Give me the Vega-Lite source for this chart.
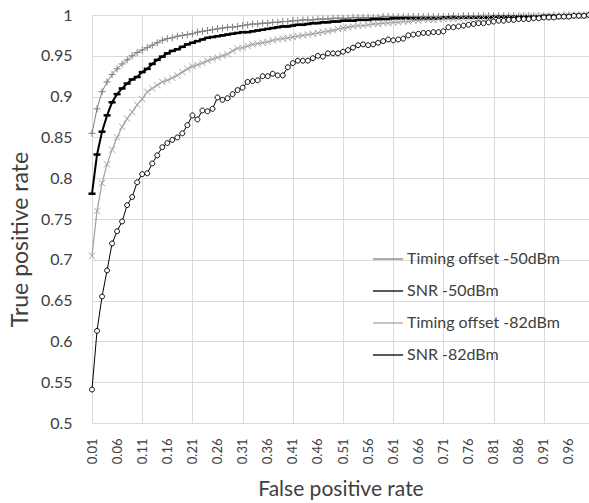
{
"$schema":"https://vega.github.io/schema/vega-lite/v6.json",
"width":497,"height":408,
"autosize":{"type":"none"},
"padding":{"left":92,"top":15,"right":0,"bottom":80},
"background":"white",
"config":{"view":{"stroke":null},"font":"Lato"},
"data":{"values":[
{"series":"Timing offset -50dBm","fpr":0.01,"tpr":0.855},{"series":"Timing offset -50dBm","fpr":0.02,"tpr":0.885},{"series":"Timing offset -50dBm","fpr":0.03,"tpr":0.906},{"series":"Timing offset -50dBm","fpr":0.04,"tpr":0.918},{"series":"Timing offset -50dBm","fpr":0.05,"tpr":0.927},{"series":"Timing offset -50dBm","fpr":0.06,"tpr":0.934},{"series":"Timing offset -50dBm","fpr":0.07,"tpr":0.94},{"series":"Timing offset -50dBm","fpr":0.08,"tpr":0.945},{"series":"Timing offset -50dBm","fpr":0.09,"tpr":0.95},{"series":"Timing offset -50dBm","fpr":0.1,"tpr":0.954},
{"series":"Timing offset -50dBm","fpr":0.11,"tpr":0.957},{"series":"Timing offset -50dBm","fpr":0.12,"tpr":0.96},{"series":"Timing offset -50dBm","fpr":0.13,"tpr":0.963},{"series":"Timing offset -50dBm","fpr":0.14,"tpr":0.966},{"series":"Timing offset -50dBm","fpr":0.15,"tpr":0.969},{"series":"Timing offset -50dBm","fpr":0.16,"tpr":0.971},{"series":"Timing offset -50dBm","fpr":0.17,"tpr":0.972},{"series":"Timing offset -50dBm","fpr":0.18,"tpr":0.974},{"series":"Timing offset -50dBm","fpr":0.19,"tpr":0.975},{"series":"Timing offset -50dBm","fpr":0.2,"tpr":0.976},
{"series":"Timing offset -50dBm","fpr":0.21,"tpr":0.977},{"series":"Timing offset -50dBm","fpr":0.22,"tpr":0.979},{"series":"Timing offset -50dBm","fpr":0.23,"tpr":0.98},{"series":"Timing offset -50dBm","fpr":0.24,"tpr":0.981},{"series":"Timing offset -50dBm","fpr":0.25,"tpr":0.982},{"series":"Timing offset -50dBm","fpr":0.26,"tpr":0.983},{"series":"Timing offset -50dBm","fpr":0.27,"tpr":0.984},{"series":"Timing offset -50dBm","fpr":0.28,"tpr":0.985},{"series":"Timing offset -50dBm","fpr":0.29,"tpr":0.985},{"series":"Timing offset -50dBm","fpr":0.3,"tpr":0.986},
{"series":"Timing offset -50dBm","fpr":0.31,"tpr":0.987},{"series":"Timing offset -50dBm","fpr":0.32,"tpr":0.988},{"series":"Timing offset -50dBm","fpr":0.33,"tpr":0.989},{"series":"Timing offset -50dBm","fpr":0.34,"tpr":0.989},{"series":"Timing offset -50dBm","fpr":0.35,"tpr":0.99},{"series":"Timing offset -50dBm","fpr":0.36,"tpr":0.99},{"series":"Timing offset -50dBm","fpr":0.37,"tpr":0.991},{"series":"Timing offset -50dBm","fpr":0.38,"tpr":0.991},{"series":"Timing offset -50dBm","fpr":0.39,"tpr":0.992},{"series":"Timing offset -50dBm","fpr":0.4,"tpr":0.992},
{"series":"Timing offset -50dBm","fpr":0.41,"tpr":0.993},{"series":"Timing offset -50dBm","fpr":0.42,"tpr":0.993},{"series":"Timing offset -50dBm","fpr":0.43,"tpr":0.994},{"series":"Timing offset -50dBm","fpr":0.44,"tpr":0.994},{"series":"Timing offset -50dBm","fpr":0.45,"tpr":0.994},{"series":"Timing offset -50dBm","fpr":0.46,"tpr":0.995},{"series":"Timing offset -50dBm","fpr":0.47,"tpr":0.995},{"series":"Timing offset -50dBm","fpr":0.48,"tpr":0.995},{"series":"Timing offset -50dBm","fpr":0.49,"tpr":0.996},{"series":"Timing offset -50dBm","fpr":0.5,"tpr":0.996},
{"series":"Timing offset -50dBm","fpr":0.51,"tpr":0.996},{"series":"Timing offset -50dBm","fpr":0.52,"tpr":0.996},{"series":"Timing offset -50dBm","fpr":0.53,"tpr":0.997},{"series":"Timing offset -50dBm","fpr":0.54,"tpr":0.997},{"series":"Timing offset -50dBm","fpr":0.55,"tpr":0.997},{"series":"Timing offset -50dBm","fpr":0.56,"tpr":0.997},{"series":"Timing offset -50dBm","fpr":0.57,"tpr":0.997},{"series":"Timing offset -50dBm","fpr":0.58,"tpr":0.997},{"series":"Timing offset -50dBm","fpr":0.59,"tpr":0.998},{"series":"Timing offset -50dBm","fpr":0.6,"tpr":0.998},
{"series":"Timing offset -50dBm","fpr":0.61,"tpr":0.998},{"series":"Timing offset -50dBm","fpr":0.62,"tpr":0.998},{"series":"Timing offset -50dBm","fpr":0.63,"tpr":0.998},{"series":"Timing offset -50dBm","fpr":0.64,"tpr":0.998},{"series":"Timing offset -50dBm","fpr":0.65,"tpr":0.998},{"series":"Timing offset -50dBm","fpr":0.66,"tpr":0.998},{"series":"Timing offset -50dBm","fpr":0.67,"tpr":0.998},{"series":"Timing offset -50dBm","fpr":0.68,"tpr":0.998},{"series":"Timing offset -50dBm","fpr":0.69,"tpr":0.998},{"series":"Timing offset -50dBm","fpr":0.7,"tpr":0.998},
{"series":"Timing offset -50dBm","fpr":0.71,"tpr":0.998},{"series":"Timing offset -50dBm","fpr":0.72,"tpr":0.998},{"series":"Timing offset -50dBm","fpr":0.73,"tpr":0.999},{"series":"Timing offset -50dBm","fpr":0.74,"tpr":0.998},{"series":"Timing offset -50dBm","fpr":0.75,"tpr":0.999},{"series":"Timing offset -50dBm","fpr":0.76,"tpr":0.999},{"series":"Timing offset -50dBm","fpr":0.77,"tpr":0.999},{"series":"Timing offset -50dBm","fpr":0.78,"tpr":0.999},{"series":"Timing offset -50dBm","fpr":0.79,"tpr":0.999},{"series":"Timing offset -50dBm","fpr":0.8,"tpr":0.999},
{"series":"Timing offset -50dBm","fpr":0.81,"tpr":0.999},{"series":"Timing offset -50dBm","fpr":0.82,"tpr":0.999},{"series":"Timing offset -50dBm","fpr":0.83,"tpr":0.999},{"series":"Timing offset -50dBm","fpr":0.84,"tpr":0.999},{"series":"Timing offset -50dBm","fpr":0.85,"tpr":0.999},{"series":"Timing offset -50dBm","fpr":0.86,"tpr":0.999},{"series":"Timing offset -50dBm","fpr":0.87,"tpr":0.999},{"series":"Timing offset -50dBm","fpr":0.88,"tpr":0.999},{"series":"Timing offset -50dBm","fpr":0.89,"tpr":0.999},{"series":"Timing offset -50dBm","fpr":0.9,"tpr":0.999},
{"series":"Timing offset -50dBm","fpr":0.91,"tpr":0.999},{"series":"Timing offset -50dBm","fpr":0.92,"tpr":0.999},{"series":"Timing offset -50dBm","fpr":0.93,"tpr":1.0},{"series":"Timing offset -50dBm","fpr":0.94,"tpr":0.999},{"series":"Timing offset -50dBm","fpr":0.95,"tpr":1.0},{"series":"Timing offset -50dBm","fpr":0.96,"tpr":1.0},{"series":"Timing offset -50dBm","fpr":0.97,"tpr":1.0},{"series":"Timing offset -50dBm","fpr":0.98,"tpr":1.0},{"series":"Timing offset -50dBm","fpr":0.99,"tpr":1.0},{"series":"Timing offset -50dBm","fpr":1.0,"tpr":1.0},

{"series":"SNR -50dBm","fpr":0.01,"tpr":0.781},{"series":"SNR -50dBm","fpr":0.02,"tpr":0.829},{"series":"SNR -50dBm","fpr":0.03,"tpr":0.857},{"series":"SNR -50dBm","fpr":0.04,"tpr":0.877},{"series":"SNR -50dBm","fpr":0.05,"tpr":0.893},{"series":"SNR -50dBm","fpr":0.06,"tpr":0.903},{"series":"SNR -50dBm","fpr":0.07,"tpr":0.91},{"series":"SNR -50dBm","fpr":0.08,"tpr":0.916},{"series":"SNR -50dBm","fpr":0.09,"tpr":0.921},{"series":"SNR -50dBm","fpr":0.1,"tpr":0.924},
{"series":"SNR -50dBm","fpr":0.11,"tpr":0.93},{"series":"SNR -50dBm","fpr":0.12,"tpr":0.934},{"series":"SNR -50dBm","fpr":0.13,"tpr":0.94},{"series":"SNR -50dBm","fpr":0.14,"tpr":0.945},{"series":"SNR -50dBm","fpr":0.15,"tpr":0.949},{"series":"SNR -50dBm","fpr":0.16,"tpr":0.953},{"series":"SNR -50dBm","fpr":0.17,"tpr":0.956},{"series":"SNR -50dBm","fpr":0.18,"tpr":0.958},{"series":"SNR -50dBm","fpr":0.19,"tpr":0.961},{"series":"SNR -50dBm","fpr":0.2,"tpr":0.964},
{"series":"SNR -50dBm","fpr":0.21,"tpr":0.966},{"series":"SNR -50dBm","fpr":0.22,"tpr":0.968},{"series":"SNR -50dBm","fpr":0.23,"tpr":0.97},{"series":"SNR -50dBm","fpr":0.24,"tpr":0.972},{"series":"SNR -50dBm","fpr":0.25,"tpr":0.973},{"series":"SNR -50dBm","fpr":0.26,"tpr":0.974},{"series":"SNR -50dBm","fpr":0.27,"tpr":0.975},{"series":"SNR -50dBm","fpr":0.28,"tpr":0.976},{"series":"SNR -50dBm","fpr":0.29,"tpr":0.977},{"series":"SNR -50dBm","fpr":0.3,"tpr":0.978},
{"series":"SNR -50dBm","fpr":0.31,"tpr":0.979},{"series":"SNR -50dBm","fpr":0.32,"tpr":0.979},{"series":"SNR -50dBm","fpr":0.33,"tpr":0.98},{"series":"SNR -50dBm","fpr":0.34,"tpr":0.981},{"series":"SNR -50dBm","fpr":0.35,"tpr":0.982},{"series":"SNR -50dBm","fpr":0.36,"tpr":0.983},{"series":"SNR -50dBm","fpr":0.37,"tpr":0.984},{"series":"SNR -50dBm","fpr":0.38,"tpr":0.985},{"series":"SNR -50dBm","fpr":0.39,"tpr":0.986},{"series":"SNR -50dBm","fpr":0.4,"tpr":0.986},
{"series":"SNR -50dBm","fpr":0.41,"tpr":0.987},{"series":"SNR -50dBm","fpr":0.42,"tpr":0.988},{"series":"SNR -50dBm","fpr":0.43,"tpr":0.988},{"series":"SNR -50dBm","fpr":0.44,"tpr":0.989},{"series":"SNR -50dBm","fpr":0.45,"tpr":0.99},{"series":"SNR -50dBm","fpr":0.46,"tpr":0.99},{"series":"SNR -50dBm","fpr":0.47,"tpr":0.991},{"series":"SNR -50dBm","fpr":0.48,"tpr":0.991},{"series":"SNR -50dBm","fpr":0.49,"tpr":0.992},{"series":"SNR -50dBm","fpr":0.5,"tpr":0.992},
{"series":"SNR -50dBm","fpr":0.51,"tpr":0.993},{"series":"SNR -50dBm","fpr":0.52,"tpr":0.993},{"series":"SNR -50dBm","fpr":0.53,"tpr":0.993},{"series":"SNR -50dBm","fpr":0.54,"tpr":0.994},{"series":"SNR -50dBm","fpr":0.55,"tpr":0.994},{"series":"SNR -50dBm","fpr":0.56,"tpr":0.994},{"series":"SNR -50dBm","fpr":0.57,"tpr":0.995},{"series":"SNR -50dBm","fpr":0.58,"tpr":0.995},{"series":"SNR -50dBm","fpr":0.59,"tpr":0.995},{"series":"SNR -50dBm","fpr":0.6,"tpr":0.995},
{"series":"SNR -50dBm","fpr":0.61,"tpr":0.996},{"series":"SNR -50dBm","fpr":0.62,"tpr":0.996},{"series":"SNR -50dBm","fpr":0.63,"tpr":0.996},{"series":"SNR -50dBm","fpr":0.64,"tpr":0.996},{"series":"SNR -50dBm","fpr":0.65,"tpr":0.996},{"series":"SNR -50dBm","fpr":0.66,"tpr":0.996},{"series":"SNR -50dBm","fpr":0.67,"tpr":0.996},{"series":"SNR -50dBm","fpr":0.68,"tpr":0.996},{"series":"SNR -50dBm","fpr":0.69,"tpr":0.996},{"series":"SNR -50dBm","fpr":0.7,"tpr":0.996},
{"series":"SNR -50dBm","fpr":0.71,"tpr":0.997},{"series":"SNR -50dBm","fpr":0.72,"tpr":0.997},{"series":"SNR -50dBm","fpr":0.73,"tpr":0.997},{"series":"SNR -50dBm","fpr":0.74,"tpr":0.997},{"series":"SNR -50dBm","fpr":0.75,"tpr":0.997},{"series":"SNR -50dBm","fpr":0.76,"tpr":0.997},{"series":"SNR -50dBm","fpr":0.77,"tpr":0.997},{"series":"SNR -50dBm","fpr":0.78,"tpr":0.997},{"series":"SNR -50dBm","fpr":0.79,"tpr":0.997},{"series":"SNR -50dBm","fpr":0.8,"tpr":0.997},
{"series":"SNR -50dBm","fpr":0.81,"tpr":0.998},{"series":"SNR -50dBm","fpr":0.82,"tpr":0.998},{"series":"SNR -50dBm","fpr":0.83,"tpr":0.998},{"series":"SNR -50dBm","fpr":0.84,"tpr":0.998},{"series":"SNR -50dBm","fpr":0.85,"tpr":0.998},{"series":"SNR -50dBm","fpr":0.86,"tpr":0.998},{"series":"SNR -50dBm","fpr":0.87,"tpr":0.998},{"series":"SNR -50dBm","fpr":0.88,"tpr":0.998},{"series":"SNR -50dBm","fpr":0.89,"tpr":0.998},{"series":"SNR -50dBm","fpr":0.9,"tpr":0.998},
{"series":"SNR -50dBm","fpr":0.91,"tpr":0.999},{"series":"SNR -50dBm","fpr":0.92,"tpr":0.999},{"series":"SNR -50dBm","fpr":0.93,"tpr":0.999},{"series":"SNR -50dBm","fpr":0.94,"tpr":0.999},{"series":"SNR -50dBm","fpr":0.95,"tpr":0.999},{"series":"SNR -50dBm","fpr":0.96,"tpr":0.999},{"series":"SNR -50dBm","fpr":0.97,"tpr":0.999},{"series":"SNR -50dBm","fpr":0.98,"tpr":1.0},{"series":"SNR -50dBm","fpr":0.99,"tpr":1.0},{"series":"SNR -50dBm","fpr":1.0,"tpr":1.0},

{"series":"Timing offset -82dBm","fpr":0.01,"tpr":0.705},{"series":"Timing offset -82dBm","fpr":0.02,"tpr":0.76},{"series":"Timing offset -82dBm","fpr":0.03,"tpr":0.794},{"series":"Timing offset -82dBm","fpr":0.04,"tpr":0.817},{"series":"Timing offset -82dBm","fpr":0.05,"tpr":0.835},{"series":"Timing offset -82dBm","fpr":0.06,"tpr":0.85},{"series":"Timing offset -82dBm","fpr":0.07,"tpr":0.863},{"series":"Timing offset -82dBm","fpr":0.08,"tpr":0.873},{"series":"Timing offset -82dBm","fpr":0.09,"tpr":0.881},{"series":"Timing offset -82dBm","fpr":0.1,"tpr":0.89},
{"series":"Timing offset -82dBm","fpr":0.11,"tpr":0.897},{"series":"Timing offset -82dBm","fpr":0.12,"tpr":0.906},{"series":"Timing offset -82dBm","fpr":0.13,"tpr":0.91},{"series":"Timing offset -82dBm","fpr":0.14,"tpr":0.914},{"series":"Timing offset -82dBm","fpr":0.15,"tpr":0.918},{"series":"Timing offset -82dBm","fpr":0.16,"tpr":0.92},{"series":"Timing offset -82dBm","fpr":0.17,"tpr":0.923},{"series":"Timing offset -82dBm","fpr":0.18,"tpr":0.926},{"series":"Timing offset -82dBm","fpr":0.19,"tpr":0.93},{"series":"Timing offset -82dBm","fpr":0.2,"tpr":0.934},
{"series":"Timing offset -82dBm","fpr":0.21,"tpr":0.937},{"series":"Timing offset -82dBm","fpr":0.22,"tpr":0.939},{"series":"Timing offset -82dBm","fpr":0.23,"tpr":0.941},{"series":"Timing offset -82dBm","fpr":0.24,"tpr":0.944},{"series":"Timing offset -82dBm","fpr":0.25,"tpr":0.946},{"series":"Timing offset -82dBm","fpr":0.26,"tpr":0.948},{"series":"Timing offset -82dBm","fpr":0.27,"tpr":0.95},{"series":"Timing offset -82dBm","fpr":0.28,"tpr":0.952},{"series":"Timing offset -82dBm","fpr":0.29,"tpr":0.956},{"series":"Timing offset -82dBm","fpr":0.3,"tpr":0.959},
{"series":"Timing offset -82dBm","fpr":0.31,"tpr":0.96},{"series":"Timing offset -82dBm","fpr":0.32,"tpr":0.962},{"series":"Timing offset -82dBm","fpr":0.33,"tpr":0.964},{"series":"Timing offset -82dBm","fpr":0.34,"tpr":0.965},{"series":"Timing offset -82dBm","fpr":0.35,"tpr":0.966},{"series":"Timing offset -82dBm","fpr":0.36,"tpr":0.967},{"series":"Timing offset -82dBm","fpr":0.37,"tpr":0.969},{"series":"Timing offset -82dBm","fpr":0.38,"tpr":0.97},{"series":"Timing offset -82dBm","fpr":0.39,"tpr":0.971},{"series":"Timing offset -82dBm","fpr":0.4,"tpr":0.972},
{"series":"Timing offset -82dBm","fpr":0.41,"tpr":0.973},{"series":"Timing offset -82dBm","fpr":0.42,"tpr":0.974},{"series":"Timing offset -82dBm","fpr":0.43,"tpr":0.975},{"series":"Timing offset -82dBm","fpr":0.44,"tpr":0.976},{"series":"Timing offset -82dBm","fpr":0.45,"tpr":0.977},{"series":"Timing offset -82dBm","fpr":0.46,"tpr":0.978},{"series":"Timing offset -82dBm","fpr":0.47,"tpr":0.979},{"series":"Timing offset -82dBm","fpr":0.48,"tpr":0.98},{"series":"Timing offset -82dBm","fpr":0.49,"tpr":0.981},{"series":"Timing offset -82dBm","fpr":0.5,"tpr":0.983},
{"series":"Timing offset -82dBm","fpr":0.51,"tpr":0.984},{"series":"Timing offset -82dBm","fpr":0.52,"tpr":0.985},{"series":"Timing offset -82dBm","fpr":0.53,"tpr":0.986},{"series":"Timing offset -82dBm","fpr":0.54,"tpr":0.987},{"series":"Timing offset -82dBm","fpr":0.55,"tpr":0.987},{"series":"Timing offset -82dBm","fpr":0.56,"tpr":0.988},{"series":"Timing offset -82dBm","fpr":0.57,"tpr":0.989},{"series":"Timing offset -82dBm","fpr":0.58,"tpr":0.989},{"series":"Timing offset -82dBm","fpr":0.59,"tpr":0.99},{"series":"Timing offset -82dBm","fpr":0.6,"tpr":0.99},
{"series":"Timing offset -82dBm","fpr":0.61,"tpr":0.991},{"series":"Timing offset -82dBm","fpr":0.62,"tpr":0.991},{"series":"Timing offset -82dBm","fpr":0.63,"tpr":0.992},{"series":"Timing offset -82dBm","fpr":0.64,"tpr":0.992},{"series":"Timing offset -82dBm","fpr":0.65,"tpr":0.993},{"series":"Timing offset -82dBm","fpr":0.66,"tpr":0.993},{"series":"Timing offset -82dBm","fpr":0.67,"tpr":0.994},{"series":"Timing offset -82dBm","fpr":0.68,"tpr":0.994},{"series":"Timing offset -82dBm","fpr":0.69,"tpr":0.994},{"series":"Timing offset -82dBm","fpr":0.7,"tpr":0.995},
{"series":"Timing offset -82dBm","fpr":0.71,"tpr":0.995},{"series":"Timing offset -82dBm","fpr":0.72,"tpr":0.995},{"series":"Timing offset -82dBm","fpr":0.73,"tpr":0.995},{"series":"Timing offset -82dBm","fpr":0.74,"tpr":0.996},{"series":"Timing offset -82dBm","fpr":0.75,"tpr":0.996},{"series":"Timing offset -82dBm","fpr":0.76,"tpr":0.996},{"series":"Timing offset -82dBm","fpr":0.77,"tpr":0.996},{"series":"Timing offset -82dBm","fpr":0.78,"tpr":0.996},{"series":"Timing offset -82dBm","fpr":0.79,"tpr":0.997},{"series":"Timing offset -82dBm","fpr":0.8,"tpr":0.997},
{"series":"Timing offset -82dBm","fpr":0.81,"tpr":0.997},{"series":"Timing offset -82dBm","fpr":0.82,"tpr":0.997},{"series":"Timing offset -82dBm","fpr":0.83,"tpr":0.997},{"series":"Timing offset -82dBm","fpr":0.84,"tpr":0.997},{"series":"Timing offset -82dBm","fpr":0.85,"tpr":0.997},{"series":"Timing offset -82dBm","fpr":0.86,"tpr":0.998},{"series":"Timing offset -82dBm","fpr":0.87,"tpr":0.998},{"series":"Timing offset -82dBm","fpr":0.88,"tpr":0.998},{"series":"Timing offset -82dBm","fpr":0.89,"tpr":0.998},{"series":"Timing offset -82dBm","fpr":0.9,"tpr":0.998},
{"series":"Timing offset -82dBm","fpr":0.91,"tpr":0.998},{"series":"Timing offset -82dBm","fpr":0.92,"tpr":0.998},{"series":"Timing offset -82dBm","fpr":0.93,"tpr":0.998},{"series":"Timing offset -82dBm","fpr":0.94,"tpr":0.998},{"series":"Timing offset -82dBm","fpr":0.95,"tpr":0.998},{"series":"Timing offset -82dBm","fpr":0.96,"tpr":0.999},{"series":"Timing offset -82dBm","fpr":0.97,"tpr":0.999},{"series":"Timing offset -82dBm","fpr":0.98,"tpr":0.999},{"series":"Timing offset -82dBm","fpr":0.99,"tpr":0.999},{"series":"Timing offset -82dBm","fpr":1.0,"tpr":1.0},

{"series":"SNR -82dBm","fpr":0.01,"tpr":0.541},{"series":"SNR -82dBm","fpr":0.02,"tpr":0.613},{"series":"SNR -82dBm","fpr":0.03,"tpr":0.655},{"series":"SNR -82dBm","fpr":0.04,"tpr":0.687},{"series":"SNR -82dBm","fpr":0.05,"tpr":0.72},{"series":"SNR -82dBm","fpr":0.06,"tpr":0.735},{"series":"SNR -82dBm","fpr":0.07,"tpr":0.747},{"series":"SNR -82dBm","fpr":0.08,"tpr":0.767},{"series":"SNR -82dBm","fpr":0.09,"tpr":0.777},{"series":"SNR -82dBm","fpr":0.1,"tpr":0.795},
{"series":"SNR -82dBm","fpr":0.11,"tpr":0.805},{"series":"SNR -82dBm","fpr":0.12,"tpr":0.806},{"series":"SNR -82dBm","fpr":0.13,"tpr":0.818},{"series":"SNR -82dBm","fpr":0.14,"tpr":0.828},{"series":"SNR -82dBm","fpr":0.15,"tpr":0.838},{"series":"SNR -82dBm","fpr":0.16,"tpr":0.843},{"series":"SNR -82dBm","fpr":0.17,"tpr":0.847},{"series":"SNR -82dBm","fpr":0.18,"tpr":0.85},{"series":"SNR -82dBm","fpr":0.19,"tpr":0.855},{"series":"SNR -82dBm","fpr":0.2,"tpr":0.865},
{"series":"SNR -82dBm","fpr":0.21,"tpr":0.877},{"series":"SNR -82dBm","fpr":0.22,"tpr":0.872},{"series":"SNR -82dBm","fpr":0.23,"tpr":0.883},{"series":"SNR -82dBm","fpr":0.24,"tpr":0.882},{"series":"SNR -82dBm","fpr":0.25,"tpr":0.885},{"series":"SNR -82dBm","fpr":0.26,"tpr":0.899},{"series":"SNR -82dBm","fpr":0.27,"tpr":0.896},{"series":"SNR -82dBm","fpr":0.28,"tpr":0.898},{"series":"SNR -82dBm","fpr":0.29,"tpr":0.903},{"series":"SNR -82dBm","fpr":0.3,"tpr":0.908},
{"series":"SNR -82dBm","fpr":0.31,"tpr":0.911},{"series":"SNR -82dBm","fpr":0.32,"tpr":0.918},{"series":"SNR -82dBm","fpr":0.33,"tpr":0.919},{"series":"SNR -82dBm","fpr":0.34,"tpr":0.92},{"series":"SNR -82dBm","fpr":0.35,"tpr":0.925},{"series":"SNR -82dBm","fpr":0.36,"tpr":0.925},{"series":"SNR -82dBm","fpr":0.37,"tpr":0.928},{"series":"SNR -82dBm","fpr":0.38,"tpr":0.926},{"series":"SNR -82dBm","fpr":0.39,"tpr":0.926},{"series":"SNR -82dBm","fpr":0.4,"tpr":0.936},
{"series":"SNR -82dBm","fpr":0.41,"tpr":0.941},{"series":"SNR -82dBm","fpr":0.42,"tpr":0.944},{"series":"SNR -82dBm","fpr":0.43,"tpr":0.944},{"series":"SNR -82dBm","fpr":0.44,"tpr":0.944},{"series":"SNR -82dBm","fpr":0.45,"tpr":0.947},{"series":"SNR -82dBm","fpr":0.46,"tpr":0.95},{"series":"SNR -82dBm","fpr":0.47,"tpr":0.949},{"series":"SNR -82dBm","fpr":0.48,"tpr":0.953},{"series":"SNR -82dBm","fpr":0.49,"tpr":0.953},{"series":"SNR -82dBm","fpr":0.5,"tpr":0.953},
{"series":"SNR -82dBm","fpr":0.51,"tpr":0.955},{"series":"SNR -82dBm","fpr":0.52,"tpr":0.957},{"series":"SNR -82dBm","fpr":0.53,"tpr":0.96},{"series":"SNR -82dBm","fpr":0.54,"tpr":0.963},{"series":"SNR -82dBm","fpr":0.55,"tpr":0.964},{"series":"SNR -82dBm","fpr":0.56,"tpr":0.963},{"series":"SNR -82dBm","fpr":0.57,"tpr":0.964},{"series":"SNR -82dBm","fpr":0.58,"tpr":0.966},{"series":"SNR -82dBm","fpr":0.59,"tpr":0.968},{"series":"SNR -82dBm","fpr":0.6,"tpr":0.97},
{"series":"SNR -82dBm","fpr":0.61,"tpr":0.969},{"series":"SNR -82dBm","fpr":0.62,"tpr":0.97},{"series":"SNR -82dBm","fpr":0.63,"tpr":0.971},{"series":"SNR -82dBm","fpr":0.64,"tpr":0.975},{"series":"SNR -82dBm","fpr":0.65,"tpr":0.976},{"series":"SNR -82dBm","fpr":0.66,"tpr":0.977},{"series":"SNR -82dBm","fpr":0.67,"tpr":0.978},{"series":"SNR -82dBm","fpr":0.68,"tpr":0.978},{"series":"SNR -82dBm","fpr":0.69,"tpr":0.979},{"series":"SNR -82dBm","fpr":0.7,"tpr":0.979},
{"series":"SNR -82dBm","fpr":0.71,"tpr":0.98},{"series":"SNR -82dBm","fpr":0.72,"tpr":0.985},{"series":"SNR -82dBm","fpr":0.73,"tpr":0.985},{"series":"SNR -82dBm","fpr":0.74,"tpr":0.986},{"series":"SNR -82dBm","fpr":0.75,"tpr":0.987},{"series":"SNR -82dBm","fpr":0.76,"tpr":0.988},{"series":"SNR -82dBm","fpr":0.77,"tpr":0.989},{"series":"SNR -82dBm","fpr":0.78,"tpr":0.99},{"series":"SNR -82dBm","fpr":0.79,"tpr":0.99},{"series":"SNR -82dBm","fpr":0.8,"tpr":0.991},
{"series":"SNR -82dBm","fpr":0.81,"tpr":0.992},{"series":"SNR -82dBm","fpr":0.82,"tpr":0.993},{"series":"SNR -82dBm","fpr":0.83,"tpr":0.993},{"series":"SNR -82dBm","fpr":0.84,"tpr":0.994},{"series":"SNR -82dBm","fpr":0.85,"tpr":0.994},{"series":"SNR -82dBm","fpr":0.86,"tpr":0.995},{"series":"SNR -82dBm","fpr":0.87,"tpr":0.995},{"series":"SNR -82dBm","fpr":0.88,"tpr":0.995},{"series":"SNR -82dBm","fpr":0.89,"tpr":0.996},{"series":"SNR -82dBm","fpr":0.9,"tpr":0.996},
{"series":"SNR -82dBm","fpr":0.91,"tpr":0.997},{"series":"SNR -82dBm","fpr":0.92,"tpr":0.997},{"series":"SNR -82dBm","fpr":0.93,"tpr":0.997},{"series":"SNR -82dBm","fpr":0.94,"tpr":0.998},{"series":"SNR -82dBm","fpr":0.95,"tpr":0.998},{"series":"SNR -82dBm","fpr":0.96,"tpr":0.998},{"series":"SNR -82dBm","fpr":0.97,"tpr":0.999},{"series":"SNR -82dBm","fpr":0.98,"tpr":0.999},{"series":"SNR -82dBm","fpr":0.99,"tpr":0.999},{"series":"SNR -82dBm","fpr":1.0,"tpr":1.0}
]},
"encoding":{
"x":{"field":"fpr","type":"quantitative","scale":{"domain":[0.01,1.0],"nice":false,"zero":false},
"axis":{"title":"False positive rate","values":[0.01,0.06,0.11,0.16,0.21,0.26,0.31,0.36,0.41,0.46,0.51,0.56,0.61,0.66,0.71,0.76,0.81,0.86,0.91,0.96],"format":".2f","labelAngle":270,"labelFontSize":13,"labelColor":"#404040","labelPadding":15,"ticks":false,"tickSize":0,"labelFlush":false,"labelOverlap":false,"domainColor":"#d9d9d9","gridColor":"#d9d9d9","gridOpacity":{"condition":{"test":"round(datum.value*100) % 10 === 1","value":1},"value":0},"titleFontSize":21,"titleFontWeight":"normal","titleColor":"#404040","titlePadding":15}},
"y":{"field":"tpr","type":"quantitative","scale":{"domain":[0.5,1],"nice":false,"zero":false},
"axis":{"title":"True positive rate","values":[0.5,0.55,0.6,0.65,0.7,0.75,0.8,0.85,0.9,0.95,1],"format":"~g","labelFontSize":16,"labelColor":"#404040","labelPadding":20,"ticks":false,"tickSize":0,"domain":false,"gridColor":"#d9d9d9","titleFontSize":23,"titleFontWeight":"normal","titleColor":"#404040","titlePadding":8,"titleY":224}},
"color":{"field":"series","type":"nominal","scale":{"domain":["Timing offset -50dBm","SNR -50dBm","Timing offset -82dBm","SNR -82dBm"],"range":["#7f7f7f","#000000","#a5a5a5","#000000"]},
"legend":{"title":null,"orient":"none","legendX":280,"legendY":228,"padding":0,"offset":0,"symbolSize":900,"labelFontSize":16,"labelColor":"#404040","labelFont":"Lato","labelOffset":3,"rowPadding":8,
"encode":{"symbols":{"update":{
"shape":{"value":"M-1,0H1"},
"strokeWidth":{"value":1.3},
"fill":{"value":"white"},
"opacity":{"value":1}}}}}}
},
"layer":[
{"mark":{"type":"line"},
"encoding":{"strokeWidth":{"condition":[{"test":"datum.series === 'SNR -50dBm'","value":2},{"test":"datum.series === 'Timing offset -82dBm'","value":1.3}],"value":1}}},
{"mark":{"type":"point","filled":false,"size":49,"opacity":1},
"encoding":{"shape":{"condition":[{"test":"datum.series === 'Timing offset -50dBm'","value":"M-1,0H1M0,-1V1"},{"test":"datum.series === 'SNR -50dBm'","value":"M-1,0H1"},{"test":"datum.series === 'Timing offset -82dBm'","value":"M-0.9,-0.9L0.9,0.9M-0.9,0.9L0.9,-0.9"}],"value":"M0.7,0A0.7,0.7 0 1,1 -0.7,0A0.7,0.7 0 1,1 0.7,0"},
"fill":{"value":"white"},
"strokeWidth":{"condition":{"test":"datum.series === 'SNR -50dBm'","value":2.5},"value":1}}}
]
}
